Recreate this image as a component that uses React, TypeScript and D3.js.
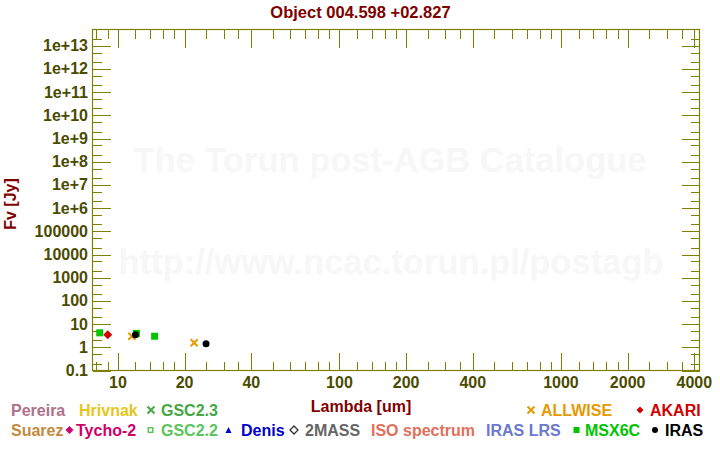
import React from "react";
import * as d3 from "d3";

const TITLE = "Object 004.598 +02.827";
const X_LABEL = "Lambda [um]";
const Y_LABEL = "Fv [Jy]";
const WATERMARK1 = "The Torun post-AGB Catalogue";
const WATERMARK2 = "http://www.ncac.torun.pl/postagb";

const xMajorTicks = [10, 20, 40, 100, 200, 400, 1000, 2000, 4000];
const xMinorTicks = [8, 9, 12, 14, 16, 18, 25, 30, 35, 50, 60, 70, 80, 90, 120, 140, 160, 180, 250, 300, 350, 500, 600, 700, 800, 900, 1200, 1400, 1600, 1800, 2500, 3000, 3500];
const yMajorTicks = [0.1, 1, 10, 100, 1000, 10000, 100000, 1e6, 1e7, 1e8, 1e9, 1e10, 1e11, 1e12, 1e13];
const yTickLabels = ["0.1", "1", "10", "100", "1000", "10000", "100000", "1e+6", "1e+7", "1e+8", "1e+9", "1e+10", "1e+11", "1e+12", "1e+13"];
const yMinorFactors = [2, 5];

const msxWave = [8.28, 12.13, 14.65];
const msxFlux = [4.2, 4.0, 3.0];
const akariWave = [9.0];
const akariFlux = [3.45];
const allwiseWave = [11.56, 22.09];
const allwiseFlux = [3.0, 1.56];
const irasWave = [12.0, 25.0];
const irasFlux = [3.45, 1.41];

const legendRow1 = ["Pereira", "Hrivnak", "GSC2.3", "ALLWISE", "AKARI"];
const legendRow1Colors = ["#b0708a", "#e6c619", "#44a844", "#e69900", "#d40000"];
const legendRow1Markers = ["none", "none", "cross", "cross", "diamond"];
const legendRow1X = [11, 79, 161, 541, 650];

const legendRow2 = ["Suarez", "Tycho-2", "GSC2.2", "Denis", "2MASS", "ISO spectrum", "IRAS LRS", "MSX6C", "IRAS"];
const legendRow2Colors = ["#c48a3c", "#d0006a", "#5cc45c", "#0000cc", "#666666", "#e0705a", "#6a78d0", "#00c400", "#000000"];
const legendRow2Markers = ["none", "diamond", "squareOpen", "triangle", "diamondOpen", "none", "none", "square", "circle"];
const legendRow2X = [11, 76, 161, 241, 305, 371, 486, 585, 665];

const FONT = "'Liberation Sans', Arial, Helvetica, sans-serif";
const AXIS = "#808000";
const TICKTXT = "#4b4b00";
const MAROON = "#800000";

function Marker({ type, x, y, color, size }: { type: string; x: number; y: number; color: string; size: number }) {
  const s = size;
  if (type === "square") return <rect x={x - s / 2} y={y - s / 2} width={s} height={s} fill={color} />;
  if (type === "squareOpen") return <rect x={x - s / 2 + 0.75} y={y - s / 2 + 0.75} width={s - 1.5} height={s - 1.5} fill="none" stroke={color} strokeWidth={1.5} />;
  if (type === "diamond") return <path d={`M${x},${y - s / 2 - 1}L${x + s / 2 + 1},${y}L${x},${y + s / 2 + 1}L${x - s / 2 - 1},${y}Z`} fill={color} />;
  if (type === "diamondOpen") return <path d={`M${x},${y - s / 2}L${x + s / 2},${y}L${x},${y + s / 2}L${x - s / 2},${y}Z`} fill="none" stroke={color} strokeWidth={1.3} />;
  if (type === "triangle") return <path d={`M${x},${y - s / 2}L${x + s / 2},${y + s / 2}L${x - s / 2},${y + s / 2}Z`} fill={color} />;
  if (type === "circle") return <circle cx={x} cy={y} r={s / 2} fill={color} />;
  if (type === "cross") {
    const h = s / 2;
    return (
      <path d={`M${x - h},${y - h}L${x + h},${y + h}M${x - h},${y + h}L${x + h},${y - h}`} stroke={color} strokeWidth={2} fill="none" />
    );
  }
  return null;
}

export default function App() {
  const W = 720, H = 450;
  const left = 92.5, right = 699.5, top = 29.5, bottom = 370.5;
  const x = d3.scaleLog().domain([7.68, 4220]).range([left, right]);
  const y = d3.scaleLog().domain([0.1, 5e13]).range([bottom, top]);
  const majorLen = 18, minorLen = 9;
  const px = (v: number) => Math.round(v) + 0.5;

  const yMinor: number[] = [];
  yMajorTicks.forEach((v) => yMinorFactors.forEach((f) => {
    const m = v * f;
    if (m < 5e13) yMinor.push(m);
  }));

  const row2Offsets: Record<string, number> = { diamond: 6.5, squareOpen: 10.5, triangle: 12.5, diamondOpen: 11, square: 8.5, circle: 10 };

  return (
    <div style={{ position: "absolute", left: 0, top: 0 }}>
      <svg width={W} height={H} style={{ display: "block", fontFamily: FONT }}>
        <rect x={0} y={0} width={W} height={H} fill="#ffffff" />
        {/* watermark */}
        <text x={390} y={172} textAnchor="middle" fontSize={34.5} fontWeight="bold" fill="#f7f7f7">{WATERMARK1}</text>
        <text x={391} y={274} textAnchor="middle" fontSize={34.5} fontWeight="bold" fill="#f7f7f7">{WATERMARK2}</text>

        {/* title */}
        <text x={360.5} y={18} textAnchor="middle" fontSize={16.5} fontWeight="bold" fill={MAROON}>{TITLE}</text>

        {/* frame */}
        <rect x={left} y={top} width={right - left} height={bottom - top} fill="none" stroke={AXIS} strokeWidth={1.2} />

        <g shapeRendering="crispEdges">
          {xMajorTicks.map((t) => (
            <g key={"xM" + t}>
              <line x1={px(x(t))} x2={px(x(t))} y1={bottom} y2={bottom - majorLen} stroke={AXIS} strokeWidth={1} />
              <line x1={px(x(t))} x2={px(x(t))} y1={top} y2={top + majorLen} stroke={AXIS} strokeWidth={1} />
            </g>
          ))}
          {xMinorTicks.map((t) => (
            <g key={"xm" + t}>
              <line x1={px(x(t))} x2={px(x(t))} y1={bottom} y2={bottom - minorLen} stroke={AXIS} strokeWidth={1} />
              <line x1={px(x(t))} x2={px(x(t))} y1={top} y2={top + minorLen} stroke={AXIS} strokeWidth={1} />
            </g>
          ))}
          {yMajorTicks.map((t, i) => (
            <g key={"yM" + i}>
              <line x1={left} x2={left + majorLen} y1={px(y(t))} y2={px(y(t))} stroke={AXIS} strokeWidth={1} />
              <line x1={right} x2={right - majorLen} y1={px(y(t))} y2={px(y(t))} stroke={AXIS} strokeWidth={1} />
            </g>
          ))}
          {yMinor.map((t, i) => (
            <g key={"ym" + i}>
              <line x1={left} x2={left + minorLen} y1={px(y(t))} y2={px(y(t))} stroke={AXIS} strokeWidth={1} />
              <line x1={right} x2={right - minorLen} y1={px(y(t))} y2={px(y(t))} stroke={AXIS} strokeWidth={1} />
            </g>
          ))}
        </g>

        {xMajorTicks.map((t) => (
          <text key={"xl" + t} x={x(t)} y={382} textAnchor="middle" dominantBaseline="central" fontSize={16} fontWeight="bold" fill={TICKTXT}>{t}</text>
        ))}
        {yMajorTicks.map((t, i) => (
          <text key={"yl" + i} x={88} y={y(t)} textAnchor="end" dominantBaseline="central" fontSize={16} fontWeight="bold" fill={TICKTXT}>{yTickLabels[i]}</text>
        ))}

        {/* axis labels */}
        <text x={361} y={406} textAnchor="middle" dominantBaseline="central" fontSize={16} fontWeight="bold" fill={MAROON}>{X_LABEL}</text>
        <text transform={`translate(10,204) rotate(-90)`} textAnchor="middle" dominantBaseline="central" fontSize={16} fontWeight="bold" fill={MAROON}>{Y_LABEL}</text>

        {/* data */}
        {msxWave.map((w, i) => <Marker key={"msx" + i} type="square" x={x(w)} y={y(msxFlux[i])} color="#00c400" size={7} />)}
        {akariWave.map((w, i) => <Marker key={"ak" + i} type="diamond" x={x(w)} y={y(akariFlux[i])} color="#d40000" size={7} />)}
        {allwiseWave.map((w, i) => <Marker key={"aw" + i} type="cross" x={x(w)} y={y(allwiseFlux[i])} color="#e69900" size={7} />)}
        {irasWave.map((w, i) => <Marker key={"ir" + i} type="circle" x={x(w)} y={y(irasFlux[i])} color="#000000" size={7} />)}

        {/* legend */}
        {legendRow1.map((n, i) => (
          <g key={"l1" + i}>
            {legendRow1Markers[i] !== "none" && (
              <Marker type={legendRow1Markers[i]} x={legendRow1X[i] - 10} y={410} color={legendRow1Colors[i]} size={legendRow1Markers[i] === "cross" ? 7 : 5} />
            )}
            <text x={legendRow1X[i]} y={410} dominantBaseline="central" fontSize={16} fontWeight="bold" fill={legendRow1Colors[i]}>{n}</text>
          </g>
        ))}
        {legendRow2.map((n, i) => {
          const m = legendRow2Markers[i];
          const off = row2Offsets[m] ?? 10;
          const c = m === "diamondOpen" ? "#333333" : legendRow2Colors[i];
          return (
            <g key={"l2" + i}>
              {m !== "none" && <Marker type={m} x={legendRow2X[i] - off} y={430} color={c} size={m === "diamondOpen" ? 8 : 6} />}
              <text x={legendRow2X[i]} y={430} dominantBaseline="central" fontSize={16} fontWeight="bold" fill={legendRow2Colors[i]}>{n}</text>
            </g>
          );
        })}
      </svg>
    </div>
  );
}
